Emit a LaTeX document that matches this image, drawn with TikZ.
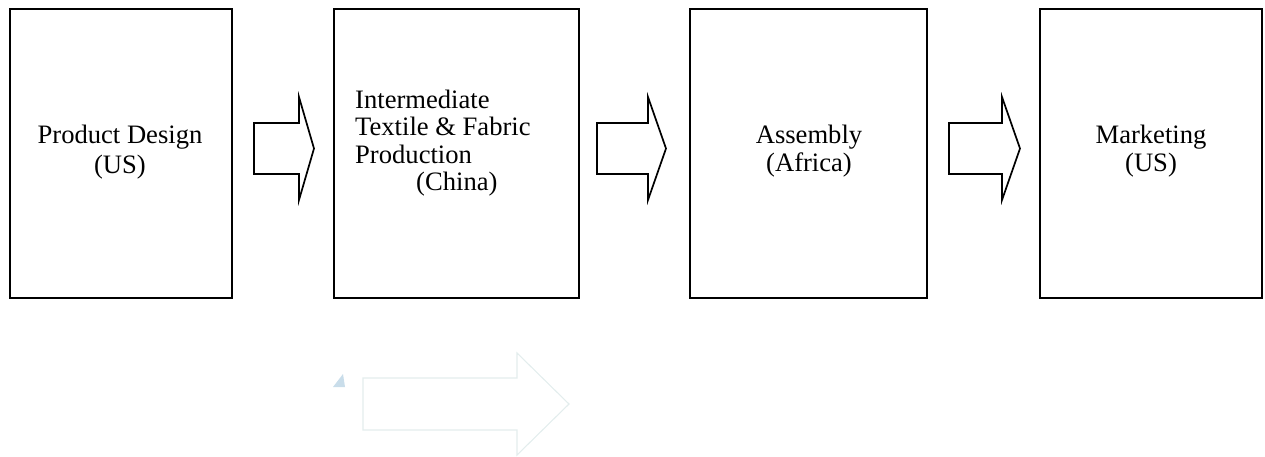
\documentclass[tikz,border=0pt]{standalone}
\usepackage{fontspec}
\setmainfont{Liberation Serif}
\definecolor{faint}{HTML}{E3EDED}
\definecolor{tri}{HTML}{C9DDEA}
\tikzset{
  box/.style={draw=black, line width=1.7pt, rectangle, inner sep=0pt},
  blockarrow/.style={draw=black, line width=1.7pt, line join=miter, fill=white},
  faintarrow/.style={draw=faint, line width=1.1pt, line join=miter},
  lbl/.style={anchor=base, inner sep=0pt, font=\fontsize{26.6}{30}\selectfont},
  lblw/.style={anchor=base west, inner sep=0pt, font=\fontsize{26.6}{30}\selectfont},
}
\begin{document}
\begin{tikzpicture}[x=1pt, y=-1pt]
\useasboundingbox (0,0) rectangle (1265,456);
% boxes
\node[box, minimum width=222pt, minimum height=289pt] (b1) at (121,153.5) {};
\node[box, minimum width=245pt, minimum height=289pt] (b2) at (456.5,153.5) {};
\node[box, minimum width=237pt, minimum height=289pt] (b3) at (808.5,153.5) {};
\node[box, minimum width=222pt, minimum height=289pt] (b4) at (1151,153.5) {};
% texts
\node[lbl] (t1a) at (120,143) {Product Design};
\node[lbl] (t1b) at (120,173) {(US)};
\node[lblw] (t2a) at (355,108) {Intermediate};
\node[lblw] (t2b) at (355,135.5) {Textile \& Fabric};
\node[lblw] (t2c) at (355,163) {Production};
\node[lblw] (t2d) at (416,190.5) {(China)};
\node[lbl] (t3a) at (809,143) {Assembly};
\node[lbl] (t3b) at (809,171) {(Africa)};
\node[lbl] (t4a) at (1151,143) {Marketing};
\node[lbl] (t4b) at (1151,171) {(US)};
% block arrows
\foreach \l/\m/\r in {254/299/314, 597/648/666, 949/1002/1020}{
  \draw[blockarrow] (\l,123) -- (\m,123) -- (\m,97) -- (\r,148.5) -- (\m,200) -- (\m,174) -- (\l,174) -- cycle;
}
% faint arrow and mark
\draw[faintarrow] (363,378) -- (517,378) -- (517,353) -- (569,404) -- (517,455) -- (517,430) -- (363,430) -- cycle;
\fill[tri] (333,387) -- (345,387) -- (343,374) -- cycle;
\end{tikzpicture}
\end{document}
